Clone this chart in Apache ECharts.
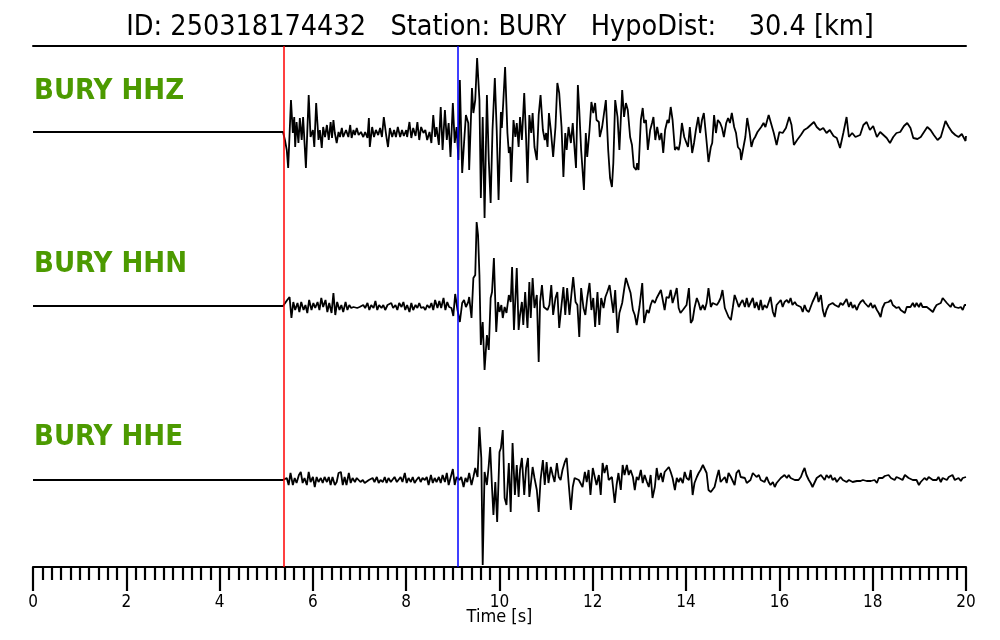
<!DOCTYPE html>
<html>
<head>
<meta charset="utf-8">
<script src="https://cdn.jsdelivr.net/npm/echarts@6/dist/echarts.min.js"></script>
<style>html,body{margin:0;padding:0;background:#fff}#c{width:1000px;height:640px}</style>
</head>
<body>
<div id="c"></div>
<script>
// ---- data (time [s], relative amplitude) ----
const titleText = 'ID: 250318174432   Station: BURY   HypoDist:    30.4 [km]';
const channels = ['BURY HHZ', 'BURY HHN', 'BURY HHE'];
const pPick = 5.365;   // red
const sPick = 9.11;    // blue
const xTicks = [0, 2, 4, 6, 8, 10, 12, 14, 16, 18, 20];

const hhz = [[0,0],[5.36,0],[5.40,-8],[5.44,-18],[5.47,-36],[5.53,32],[5.57,-1],[5.60,15],[5.62,-15],[5.65,10],[5.69,-11],[5.72,14],[5.76,-8],[5.79,15],[5.82,17],[5.85,-36],[5.91,37],[5.95,-5],[6.00,2],[6.03,-15],[6.07,29],[6.12,-8],[6.15,2],[6.19,-16],[6.22,5],[6.26,-5],[6.30,7],[6.34,-8],[6.38,10],[6.41,-6],[6.44,12],[6.47,-1],[6.51,-11],[6.55,0],[6.58,-5],[6.62,4],[6.65,-5],[6.71,2],[6.76,-5],[6.80,7],[6.83,-6],[6.87,2],[6.90,-3],[6.94,4],[6.98,-3],[7.03,0],[7.08,-5],[7.12,0],[7.17,-6],[7.20,14],[7.22,-15],[7.27,5],[7.31,-5],[7.35,2],[7.40,-3],[7.44,4],[7.48,-5],[7.52,15],[7.57,-3],[7.61,-15],[7.65,4],[7.70,-5],[7.74,2],[7.78,-5],[7.82,5],[7.87,-5],[7.91,2],[7.95,-4],[8.00,2],[8.02,-5],[8.07,10],[8.11,-6],[8.15,4],[8.20,-4],[8.24,10],[8.28,-8],[8.32,5],[8.37,-1],[8.41,2],[8.45,-8],[8.50,0],[8.54,-11],[8.58,17],[8.62,-5],[8.65,5],[8.70,-13],[8.74,25],[8.78,-18],[8.83,22],[8.87,-8],[8.91,9],[8.95,-25],[9.00,29],[9.04,-11],[9.08,5],[9.12,-28],[9.15,52],[9.20,-41],[9.24,-11],[9.28,17],[9.33,9],[9.35,-38],[9.41,44],[9.44,19],[9.48,32],[9.52,74],[9.57,32],[9.60,-66],[9.64,15],[9.68,-86],[9.73,37],[9.77,-28],[9.81,-71],[9.85,2],[9.90,54],[9.94,2],[9.98,-68],[10.03,20],[10.05,4],[10.08,29],[10.12,65],[10.17,-1],[10.20,-21],[10.23,-15],[10.25,-50],[10.30,12],[10.34,-5],[10.37,9],[10.41,-15],[10.44,15],[10.48,-8],[10.53,39],[10.57,-6],[10.60,-51],[10.64,17],[10.68,-1],[10.71,19],[10.75,-15],[10.80,-28],[10.84,17],[10.88,37],[10.93,2],[10.97,-8],[11.00,-1],[11.03,-15],[11.06,19],[11.10,2],[11.15,-25],[11.20,5],[11.24,49],[11.28,39],[11.33,5],[11.37,-45],[11.41,-1],[11.44,-18],[11.48,5],[11.53,-11],[11.57,9],[11.60,-11],[11.64,-36],[11.68,47],[11.71,22],[11.75,-18],[11.81,-58],[11.85,-1],[11.88,-25],[11.93,2],[11.97,30],[12.01,19],[12.05,29],[12.08,12],[12.13,10],[12.15,-5],[12.20,5],[12.28,32],[12.33,-18],[12.37,-46],[12.41,-55],[12.44,-31],[12.48,32],[12.53,15],[12.57,-18],[12.63,42],[12.67,15],[12.71,29],[12.75,22],[12.80,-5],[12.84,-13],[12.88,-35],[12.93,-38],[12.95,-31],[12.98,-38],[13.03,12],[13.07,24],[13.10,9],[13.14,12],[13.18,-18],[13.23,2],[13.27,9],[13.30,15],[13.34,-8],[13.38,5],[13.43,-8],[13.47,-1],[13.51,-21],[13.55,2],[13.60,12],[13.63,9],[13.67,25],[13.71,12],[13.76,-18],[13.80,-15],[13.84,-18],[13.87,-11],[13.91,9],[13.96,-5],[14.00,-3],[14.04,-15],[14.08,5],[14.13,-21],[14.17,-11],[14.21,2],[14.26,15],[14.30,-1],[14.34,12],[14.38,19],[14.43,-5],[14.48,-30],[14.53,-15],[14.56,-11],[14.60,17],[14.64,-1],[14.68,12],[14.73,9],[14.77,4],[14.81,-5],[14.86,9],[14.90,14],[14.94,9],[14.98,19],[15.03,5],[15.07,-1],[15.11,-15],[15.16,-18],[15.18,-28],[15.23,-15],[15.27,-5],[15.31,14],[15.36,0],[15.40,-15],[15.44,-8],[15.48,-5],[15.53,0],[15.57,-1],[15.61,5],[15.66,9],[15.70,5],[15.74,12],[15.77,17],[15.81,15],[15.88,-1],[15.94,-13],[16.00,0],[16.07,-1],[16.14,4],[16.21,15],[16.26,7],[16.31,-13],[16.38,-8],[16.46,-3],[16.53,2],[16.60,4],[16.67,7],[16.74,10],[16.80,5],[16.87,2],[16.94,4],[17.01,-1],[17.08,2],[17.16,-4],[17.23,-6],[17.30,-16],[17.37,-1],[17.44,15],[17.49,-5],[17.56,-1],[17.63,-5],[17.73,-3],[17.80,7],[17.87,10],[17.94,2],[18.01,6],[18.09,-5],[18.16,0],[18.23,-3],[18.30,-6],[18.37,-11],[18.44,-5],[18.51,-1],[18.59,0],[18.67,6],[18.74,9],[18.81,4],[18.87,-6],[18.96,-7],[19.03,-5],[19.10,0],[19.17,5],[19.24,2],[19.31,-3],[19.39,-8],[19.46,-5],[19.56,11],[19.63,5],[19.70,0],[19.77,-3],[19.84,-5],[19.91,-2],[19.99,-9],[20.00,-4]];

const hhn = [[0,0],[5.36,0],[5.40,1],[5.45,6],[5.50,9],[5.54,-12],[5.58,4],[5.62,-4],[5.67,3],[5.71,-6],[5.75,4],[5.80,-4],[5.84,1],[5.88,-7],[5.92,6],[5.97,-4],[6.01,3],[6.05,-2],[6.10,4],[6.14,-4],[6.18,8],[6.22,-1],[6.27,6],[6.31,-6],[6.35,3],[6.40,-7],[6.44,13],[6.48,-9],[6.52,4],[6.57,-4],[6.61,1],[6.65,-6],[6.70,4],[6.74,-4],[6.78,1],[6.82,-2],[6.87,-1],[6.91,1],[6.95,-2],[7.00,-1],[7.08,1],[7.12,-2],[7.17,3],[7.21,-4],[7.25,1],[7.30,-2],[7.34,5],[7.38,-4],[7.42,1],[7.47,-2],[7.51,1],[7.55,-4],[7.60,1],[7.64,-1],[7.68,3],[7.72,-2],[7.77,1],[7.81,-4],[7.85,3],[7.90,-1],[7.94,4],[7.98,-4],[8.02,1],[8.07,-6],[8.11,3],[8.15,-4],[8.20,1],[8.24,-2],[8.28,3],[8.32,-2],[8.37,-1],[8.41,-4],[8.45,1],[8.50,-2],[8.54,3],[8.58,-4],[8.62,6],[8.67,-2],[8.71,5],[8.75,-2],[8.80,8],[8.84,-4],[8.88,4],[8.92,-1],[8.97,-2],[9.01,-10],[9.05,12],[9.10,-4],[9.15,-16],[9.20,3],[9.24,6],[9.28,-1],[9.33,4],[9.35,9],[9.40,-12],[9.44,28],[9.48,31],[9.51,84],[9.54,71],[9.57,31],[9.60,-39],[9.64,-16],[9.68,-64],[9.73,-29],[9.77,-44],[9.81,8],[9.84,14],[9.88,48],[9.93,-26],[9.97,4],[10.00,-6],[10.04,1],[10.07,-12],[10.11,-1],[10.15,-7],[10.20,11],[10.24,4],[10.27,39],[10.31,-24],[10.37,38],[10.41,-24],[10.44,-9],[10.48,4],[10.51,-19],[10.55,14],[10.60,-22],[10.64,24],[10.67,-12],[10.71,28],[10.75,-2],[10.80,11],[10.84,-56],[10.87,4],[10.91,21],[10.95,-1],[10.98,1],[11.03,-4],[11.07,1],[11.11,21],[11.15,-9],[11.20,8],[11.24,14],[11.28,-22],[11.33,1],[11.37,19],[11.41,-9],[11.45,18],[11.50,-9],[11.54,11],[11.58,29],[11.63,4],[11.67,1],[11.71,-31],[11.75,18],[11.80,-2],[11.84,-9],[11.88,8],[11.93,23],[11.97,-4],[12.01,8],[12.05,-21],[12.10,14],[12.14,-19],[12.18,8],[12.23,-2],[12.27,9],[12.31,14],[12.36,21],[12.44,-7],[12.48,16],[12.53,-27],[12.57,-7],[12.63,3],[12.67,16],[12.71,28],[12.77,19],[12.81,13],[12.86,-4],[12.90,-9],[12.94,-19],[13.00,-1],[13.06,23],[13.10,-17],[13.16,-4],[13.20,-7],[13.24,1],[13.28,6],[13.33,3],[13.37,8],[13.41,6],[13.46,16],[13.50,18],[13.54,-4],[13.58,9],[13.63,8],[13.67,16],[13.71,3],[13.76,11],[13.80,18],[13.84,-2],[13.88,-7],[13.93,-4],[13.97,-6],[14.01,1],[14.06,18],[14.10,-17],[14.14,-14],[14.18,-2],[14.23,8],[14.27,3],[14.31,-4],[14.36,1],[14.40,-4],[14.44,3],[14.48,18],[14.53,-1],[14.57,3],[14.61,4],[14.66,1],[14.70,4],[14.74,8],[14.78,16],[14.83,-2],[14.87,-4],[14.91,-11],[14.96,-14],[15.00,-2],[15.04,11],[15.08,6],[15.13,-1],[15.17,3],[15.21,6],[15.26,-1],[15.30,8],[15.34,-1],[15.38,3],[15.43,8],[15.47,-2],[15.51,4],[15.56,-4],[15.60,6],[15.64,-4],[15.68,1],[15.73,-2],[15.77,-1],[15.81,9],[15.86,-6],[15.90,-11],[15.94,1],[15.98,-1],[16.03,6],[16.07,-1],[16.11,4],[16.16,6],[16.20,3],[16.24,8],[16.28,1],[16.33,4],[16.37,1],[16.41,3],[16.46,-1],[16.50,-6],[16.54,1],[16.58,-4],[16.63,-6],[16.67,-1],[16.71,4],[16.76,9],[16.80,14],[16.84,4],[16.89,11],[16.93,-4],[16.97,-11],[17.01,-4],[17.06,1],[17.10,-1],[17.14,3],[17.19,1],[17.23,3],[17.27,-1],[17.31,3],[17.36,1],[17.40,4],[17.44,7],[17.49,-1],[17.53,4],[17.57,-2],[17.61,1],[17.66,-4],[17.70,1],[17.74,4],[17.79,6],[17.83,3],[17.87,4],[17.91,-1],[17.96,3],[18.00,-2],[18.04,1],[18.09,-4],[18.13,-7],[18.17,-11],[18.21,-2],[18.26,3],[18.30,1],[18.34,4],[18.39,6],[18.43,1],[18.47,-1],[18.51,-2],[18.56,-1],[18.60,-4],[18.64,-6],[18.69,-7],[18.73,-1],[18.77,1],[18.81,-1],[18.86,3],[18.90,-1],[18.94,3],[18.99,-1],[19.03,3],[19.07,-1],[19.11,1],[19.16,-1],[19.20,-2],[19.24,-4],[19.29,-6],[19.33,-2],[19.37,1],[19.41,-1],[19.46,3],[19.50,8],[19.54,9],[19.59,3],[19.63,4],[19.67,-1],[19.71,3],[19.76,-1],[19.80,1],[19.84,-2],[19.89,-1],[19.93,-4],[19.97,1],[20.00,1]];

const hhe = [[0,0],[5.36,0],[5.40,-2],[5.44,2],[5.48,-5],[5.52,7],[5.57,-5],[5.61,2],[5.65,-3],[5.70,5],[5.74,8],[5.78,-3],[5.82,2],[5.87,-5],[5.91,8],[5.95,-2],[6.00,3],[6.04,-7],[6.08,3],[6.12,-2],[6.17,2],[6.21,-3],[6.25,3],[6.30,-2],[6.34,3],[6.38,-5],[6.42,3],[6.47,-5],[6.51,-2],[6.55,7],[6.60,8],[6.64,-5],[6.68,3],[6.72,-5],[6.77,7],[6.81,-3],[6.85,2],[6.90,-2],[6.94,2],[6.98,0],[7.02,-2],[7.07,0],[7.11,-3],[7.15,-1],[7.20,0],[7.24,-2],[7.28,2],[7.32,-2],[7.37,3],[7.41,-3],[7.45,0],[7.50,-2],[7.54,3],[7.58,-3],[7.62,2],[7.67,-2],[7.71,0],[7.75,3],[7.80,-2],[7.84,0],[7.88,3],[7.92,-2],[7.97,7],[8.01,-3],[8.05,2],[8.10,-2],[8.14,3],[8.18,-3],[8.22,0],[8.27,3],[8.31,-2],[8.35,2],[8.40,0],[8.44,3],[8.48,-5],[8.53,5],[8.57,-3],[8.61,2],[8.65,-2],[8.70,3],[8.74,-3],[8.78,5],[8.83,-2],[8.87,7],[8.91,-5],[8.95,2],[9.00,11],[9.04,-5],[9.08,3],[9.14,0],[9.18,3],[9.23,-7],[9.27,2],[9.31,-2],[9.35,7],[9.40,-5],[9.44,3],[9.48,12],[9.53,3],[9.57,53],[9.61,22],[9.64,-85],[9.68,8],[9.73,-5],[9.77,15],[9.80,33],[9.84,-8],[9.87,-35],[9.91,-2],[9.95,-42],[10.00,28],[10.03,32],[10.07,50],[10.11,-18],[10.15,-25],[10.20,17],[10.24,-32],[10.28,37],[10.33,-15],[10.37,15],[10.41,-17],[10.44,10],[10.48,22],[10.53,-15],[10.57,12],[10.61,22],[10.64,-17],[10.67,-5],[10.71,13],[10.75,2],[10.80,-10],[10.84,-32],[10.88,0],[10.93,20],[10.97,-5],[11.01,18],[11.05,-3],[11.10,13],[11.14,5],[11.18,-2],[11.23,17],[11.27,3],[11.31,0],[11.35,10],[11.40,18],[11.44,22],[11.48,-2],[11.53,-30],[11.57,-7],[11.61,2],[11.65,3],[11.70,0],[11.74,2],[11.78,-7],[11.83,8],[11.87,-2],[11.91,10],[11.95,-15],[12.00,12],[12.04,10],[12.08,-5],[12.13,5],[12.17,-15],[12.21,17],[12.25,7],[12.30,15],[12.34,0],[12.41,3],[12.47,-23],[12.51,-5],[12.55,7],[12.60,-10],[12.64,15],[12.68,5],[12.73,15],[12.77,5],[12.81,10],[12.86,3],[12.90,-10],[12.94,3],[12.98,0],[13.03,10],[13.07,-3],[13.11,5],[13.16,-2],[13.20,-7],[13.24,5],[13.28,-18],[13.33,-7],[13.37,12],[13.41,0],[13.46,7],[13.50,-2],[13.54,8],[13.58,7],[13.63,13],[13.67,8],[13.71,2],[13.76,-10],[13.80,2],[13.84,-2],[13.88,2],[13.93,-3],[13.97,8],[14.01,2],[14.06,0],[14.10,10],[14.14,-15],[14.18,-3],[14.23,3],[14.27,7],[14.31,10],[14.36,15],[14.40,17],[14.44,7],[14.48,-10],[14.53,-12],[14.57,-10],[14.61,-7],[14.66,3],[14.70,10],[14.74,-2],[14.78,0],[14.83,3],[14.87,-3],[14.91,7],[14.96,3],[15.00,2],[15.04,-5],[15.08,7],[15.13,10],[15.17,3],[15.21,5],[15.26,2],[15.30,-3],[15.34,-5],[15.38,0],[15.43,7],[15.47,8],[15.51,3],[15.56,5],[15.60,0],[15.64,2],[15.68,-2],[15.73,3],[15.77,-2],[15.81,-5],[15.86,-2],[15.90,-7],[15.94,-3],[15.98,-2],[16.03,2],[16.07,3],[16.11,5],[16.16,2],[16.20,5],[16.24,2],[16.28,3],[16.33,0],[16.37,2],[16.41,0],[16.46,3],[16.50,8],[16.54,12],[16.58,5],[16.63,0],[16.67,-3],[16.71,-7],[16.76,-2],[16.80,2],[16.84,0],[16.89,5],[16.93,7],[16.97,0],[17.01,5],[17.06,2],[17.10,5],[17.14,0],[17.19,2],[17.23,-2],[17.27,0],[17.31,3],[17.36,0],[17.40,2],[17.44,-2],[17.49,0],[17.53,2],[17.57,-2],[17.61,0],[17.66,-1],[17.70,0],[17.74,-1],[17.79,0],[17.83,-1],[17.87,-1],[17.91,-2],[17.96,-1],[18.00,-2],[18.04,0],[18.09,-3],[18.13,2],[18.17,3],[18.21,2],[18.26,4],[18.30,3],[18.34,5],[18.39,2],[18.43,3],[18.47,0],[18.51,3],[18.56,2],[18.60,4],[18.64,0],[18.69,5],[18.73,7],[18.77,2],[18.81,3],[18.86,0],[18.90,-2],[18.94,0],[18.99,-5],[19.03,-2],[19.07,0],[19.11,2],[19.16,0],[19.20,3],[19.24,2],[19.29,0],[19.33,2],[19.37,0],[19.41,3],[19.46,-2],[19.50,2],[19.54,3],[19.59,0],[19.63,3],[19.67,2],[19.71,5],[19.76,0],[19.80,-2],[19.84,2],[19.89,-1],[19.93,2],[19.97,2],[20.00,3]];

// per-trace amplitude window [min, max] so the three traces stack
const yRanges = [[-435, 86], [-261, 260], [-87, 434]];
const traces = [hhz, hhn, hhe];

// ---- chart ----
const FONT = "'DejaVu Sans Condensed', 'DejaVu Sans', sans-serif";
const GREEN = '#4c9a00';
const gridBox = { left: 33, right: 34, top: 46, bottom: 73 };
const chart = echarts.init(document.getElementById('c'), null, { renderer: 'canvas' });

const grids = traces.map(() => Object.assign({}, gridBox));
const xAxes = traces.map((_, i) => ({
  type: 'value', gridIndex: i, min: 0, max: 20, interval: 2, show: i === 0,
  position: 'bottom',
  axisLine: { show: true, onZero: false, lineStyle: { color: '#000', width: 2.2 } },
  axisTick: { show: true, length: 24, lineStyle: { color: '#000', width: 2.2 } },
  minorTick: { show: true, splitNumber: 10, length: 13, lineStyle: { color: '#000', width: 2.2 } },
  axisLabel: { color: '#000', fontSize: 17, fontFamily: FONT, margin: 27,
               formatter: v => xTicks.includes(v) ? String(v) : '' },
  splitLine: { show: false },
  name: 'Time [s]', nameLocation: 'middle', nameGap: 41, nameMoveOverlap: false,
  nameTextStyle: { color: '#000', fontSize: 18, fontFamily: FONT }
}));
// top frame line
xAxes.push({
  type: 'value', gridIndex: 0, min: 0, max: 20, position: 'top',
  axisLine: { show: true, onZero: false, lineStyle: { color: '#000', width: 2 } },
  axisTick: { show: false }, axisLabel: { show: false }, splitLine: { show: false }
});
const yAxes = yRanges.map((r, i) => ({
  type: 'value', gridIndex: i, min: r[0], max: r[1], show: false
}));

const series = traces.map((d, i) => ({
  type: 'line', xAxisIndex: i, yAxisIndex: i, data: d,
  showSymbol: false, symbol: 'none', silent: true, animation: false,
  lineStyle: { color: '#000', width: 1.8 }, z: 3,
  markLine: i === 0 ? {
    silent: true, symbol: ['none', 'none'], animation: false,
    label: { show: false },
    data: [
      { xAxis: pPick, lineStyle: { color: '#ff0000', width: 1.5, type: 'solid' } },
      { xAxis: sPick, lineStyle: { color: '#0000ff', width: 1.5, type: 'solid' } }
    ]
  } : undefined
}));

const labelTops = [77, 250, 423];
const titles = [{
  text: titleText, left: 'center', top: 13, padding: 0,
  textStyle: { color: '#000', fontSize: 28.5, fontWeight: 'normal', fontFamily: FONT }
}].concat(channels.map((c, i) => ({
  text: c, left: 34, top: labelTops[i], padding: 0,
  textStyle: { color: GREEN, fontSize: 29, fontWeight: 'bold', fontFamily: FONT }
})));

chart.setOption({
  animation: false,
  backgroundColor: '#fff',
  title: titles,
  grid: grids,
  xAxis: xAxes,
  yAxis: yAxes,
  series: series
});
</script>
</body>
</html>
